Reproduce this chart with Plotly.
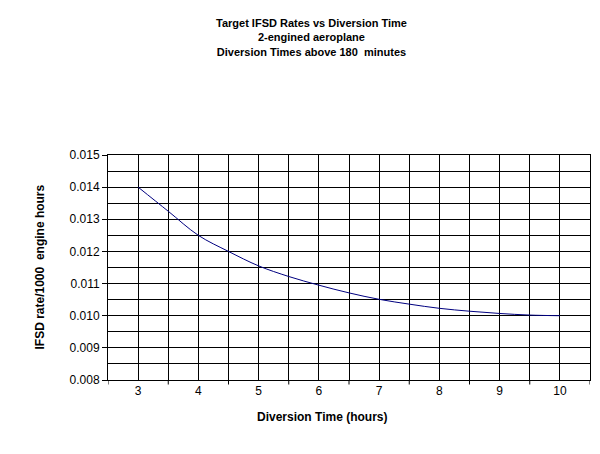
import plotly.graph_objects as go

hours = [3, 3.5, 4, 4.5, 5, 5.5, 6, 6.5, 7, 7.5, 8, 8.5, 9, 9.5, 10]
ifsd_rate = [0.0140, 0.01325, 0.0125, 0.01200, 0.01155, 0.01122, 0.01095, 0.01071, 0.01051, 0.01036,
             0.01023, 0.01014, 0.01007, 0.01002, 0.0100]
x_ticks = [3, 4, 5, 6, 7, 8, 9, 10]

fig = go.Figure()
fig.add_trace(go.Scatter(x=hours, y=ifsd_rate, mode="lines", line=dict(color="#000080", width=1, shape="spline")))

# outer tick marks sit between the labelled hours, like a category axis
for v in [2.5 + i for i in range(9)]:
    fig.add_shape(type="line", xref="x", yref="paper", x0=v, x1=v, y0=0, y1=-0.02,
                  line=dict(color="black", width=1))

fig.update_layout(
    width=600, height=454,
    margin=dict(l=100, r=18, t=147, b=82),
    paper_bgcolor="white", plot_bgcolor="white",
    font=dict(family="Arial, Liberation Sans", size=12, color="black"),
    showlegend=False,
    annotations=[dict(text="<b>Target IFSD Rates vs Diversion Time<br>2-engined aeroplane<br>Diversion Times above 180  minutes</b>",
                      x=(303 - 100) / 482, xref="paper", y=1 + (147 - 7) / 225, yref="paper",
                      yanchor="top", showarrow=False, font=dict(size=11)),
                 dict(text="<b>IFSD rate/1000  engine hours</b>", textangle=-90, xref="paper", yref="paper",
                      x=-(100 - 22) / 482, y=0.5, showarrow=False, font=dict(size=12)),
                 dict(text="<b>Diversion Time (hours)</b>", xref="paper", yref="paper",
                      x=(314 - 100) / 482, y=-(418 - 372) / 225, showarrow=False, font=dict(size=12))],
)
fig.update_xaxes(range=[2.5, 10.5], tickvals=x_ticks, showline=True, linecolor="black", linewidth=1,
                 mirror=True, showgrid=False, zeroline=False, ticks="", automargin=False,
                 minor=dict(dtick=0.5, tick0=2.5, showgrid=True, gridcolor="black", gridwidth=1))
fig.update_yaxes(range=[0.008, 0.015], dtick=0.001, tickformat=".3f", showline=True, linecolor="black",
                 linewidth=1, mirror=True, showgrid=True, gridcolor="black", gridwidth=1, zeroline=False,
                 ticks="outside", ticklen=5, tickcolor="black", automargin=False,
                 minor=dict(dtick=0.0005, showgrid=True, gridcolor="black", gridwidth=1))

fig.write_html("out.html")
